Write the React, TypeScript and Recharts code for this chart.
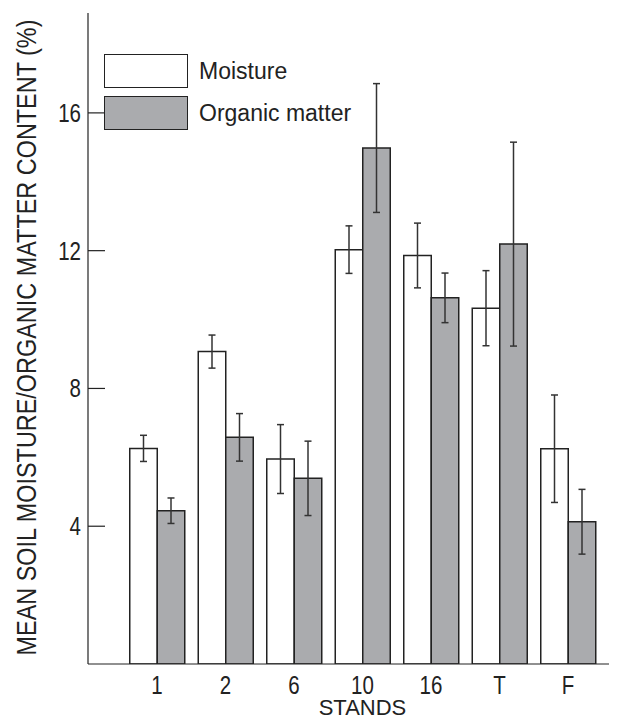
import { BarChart, Bar, XAxis, YAxis, ErrorBar, Legend, Label } from 'recharts';

const stands = ['1', '2', '6', '10', '16', 'T', 'F'];
const moisture = [6.26, 9.07, 5.95, 12.03, 11.86, 10.33, 6.25];
const moistureErr = [0.38, 0.48, 1.0, 0.69, 0.94, 1.09, 1.56];
const organic = [4.45, 6.58, 5.39, 14.98, 10.63, 12.19, 4.13];
const organicErr = [0.37, 0.69, 1.08, 1.87, 0.72, 2.96, 0.94];
const yTicks = [4, 8, 12, 16];

const data = stands.map((stand, i) => ({
  stand,
  moisture: moisture[i],
  moistureErr: moistureErr[i],
  organic: organic[i],
  organicErr: organicErr[i],
}));

const SANS = "'Liberation Sans', Arial, sans-serif";
const INK = '#222';
const GREY = '#aaabae';
// the original tick labels are set in a condensed face
const SQUEEZE = 0.82;

const YTick = ({ x, y, payload }: any) => (
  <g>
    <line x1={x + 7} x2={x + 24} y1={y} y2={y} stroke={INK} strokeWidth={1.2} />
    <text
      transform={`translate(${x} ${y}) scale(${SQUEEZE} 1)`}
      dy="0.36em"
      textAnchor="end"
      fontSize={25}
      fontFamily={SANS}
      fill={INK}
    >
      {payload.value}
    </text>
  </g>
);

const XTick = ({ x, y, payload }: any) => (
  <text
    transform={`translate(${x} ${y}) scale(${SQUEEZE} 1)`}
    dy="0.71em"
    textAnchor="middle"
    fontSize={25}
    fontFamily={SANS}
    fill={INK}
  >
    {payload.value}
  </text>
);

const LegendBox = ({ payload }: any) => (
  <div style={{ fontFamily: SANS, fontSize: 23, color: INK }}>
    {(payload || []).map((entry: any, i: number) => (
      <div key={`leg-${i}`} style={{ display: 'flex', alignItems: 'center', marginBottom: 8 }}>
        <div
          style={{
            width: 82,
            height: 32,
            background: entry.payload?.fill ?? entry.color,
            border: `1.5px solid ${INK}`,
            marginRight: 11,
          }}
        />
        <span>{entry.value}</span>
      </div>
    ))}
  </div>
);

export default function App() {
  return (
    <div style={{ position: 'absolute', left: 0, top: 0, width: 623, height: 719, background: '#fff' }}>
      <BarChart
        width={623}
        height={719}
        data={data}
        margin={{ top: 13, right: 14, bottom: 0, left: 0 }}
        barGap={0}
      >
        <XAxis
          dataKey="stand"
          height={55}
          padding={{ left: 34.75, right: 6.75 }}
          tickLine={false}
          tickSize={0}
          tickMargin={12}
          axisLine={{ stroke: INK, strokeWidth: 1.2 }}
          tick={<XTick />}
        >
          <Label
            content={(props: any) => {
              const vb = props.viewBox;
              return (
                <text
                  x={vb.x + vb.width / 2 + 14}
                  y={vb.y + vb.height - 4}
                  textAnchor="middle"
                  fontSize={22}
                  fontFamily={SANS}
                  fill={INK}
                >
                  STANDS
                </text>
              );
            }}
          />
        </XAxis>
        <XAxis xAxisId="top" orientation="top" dataKey="stand" height={0} tick={false} tickLine={false} axisLine={{ stroke: INK, strokeWidth: 1.2 }} />
        <YAxis
          width={88}
          domain={[0, 18.9]}
          ticks={yTicks}
          allowDataOverflow
          tickSize={0}
          tickMargin={7}
          tick={<YTick />}
          axisLine={{ stroke: INK, strokeWidth: 1.2 }}
        >
          <Label
            content={(props: any) => {
              const vb = props.viewBox;
              const cx = vb.x + 36;
              const cy = vb.y + vb.height / 2 - 1;
              return (
                <text
                  x={cx}
                  y={cy}
                  transform={`rotate(-90 ${cx} ${cy})`}
                  textAnchor="middle"
                  fontSize={27}
                  fontFamily={SANS}
                  fill={INK}
                  textLength={636}
                  lengthAdjust="spacingAndGlyphs"
                >
                  MEAN SOIL MOISTURE/ORGANIC MATTER CONTENT (%)
                </text>
              );
            }}
          />
        </YAxis>
        <YAxis yAxisId="right" orientation="right" width={0} domain={[0, 18.9]} tick={false} tickLine={false} axisLine={{ stroke: INK, strokeWidth: 1.2 }} />
        <Legend
          layout="horizontal"
          verticalAlign="middle"
          align="center"
          wrapperStyle={{ left: 104, top: 54, width: 'auto', height: 'auto' }}
          content={<LegendBox />}
        />
        <Bar dataKey="moisture" name="Moisture" fill="#ffffff" stroke={INK} strokeWidth={1.5} barSize={27.5} isAnimationActive={false}>
          <ErrorBar dataKey="moistureErr" direction="y" width={3.5} stroke="#333" strokeWidth={1.5} isAnimationActive={false} />
        </Bar>
        <Bar dataKey="organic" name="Organic matter" fill={GREY} stroke={INK} strokeWidth={1.5} barSize={27.5} isAnimationActive={false}>
          <ErrorBar dataKey="organicErr" direction="y" width={3.5} stroke="#333" strokeWidth={1.5} isAnimationActive={false} />
        </Bar>
      </BarChart>
    </div>
  );
}
